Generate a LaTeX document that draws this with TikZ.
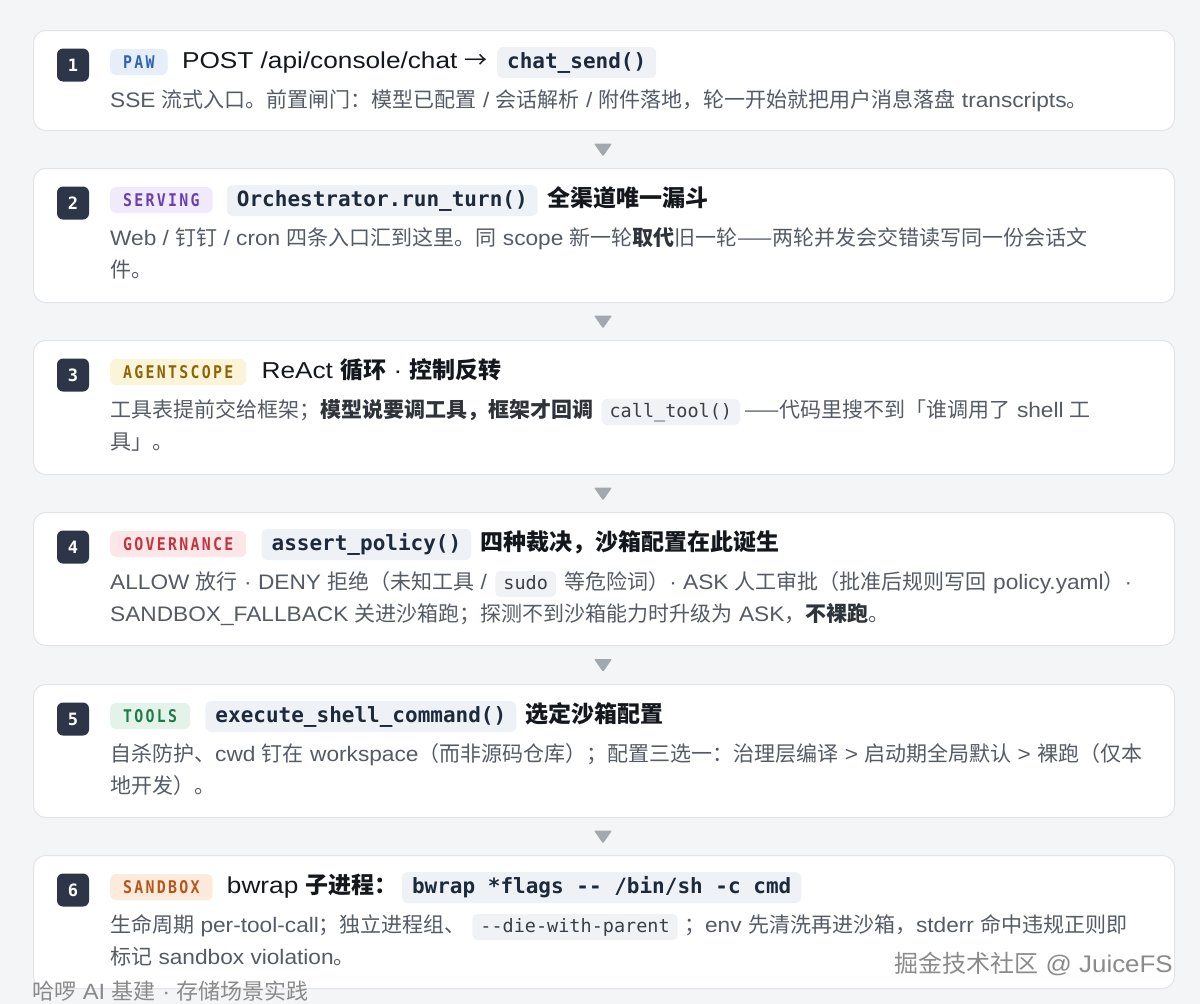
\documentclass[tikz,border=0pt]{standalone}
\usepackage{fontspec}
\setmainfont{Noto Sans CJK SC}
\newfontfamily\enf{Liberation Sans}[FakeStretch=1.08]
\newfontfamily\entf{Liberation Sans}[FakeStretch=1.14]
\newfontfamily\monof{DejaVu Sans Mono}[Ligatures=TeXOff]
\newfontfamily\tagf{DejaVu Sans Mono}[Ligatures=TeXOff,FakeStretch=0.85,LetterSpace=13]
\usetikzlibrary{calc}

\definecolor{bgc}{HTML}{F4F5F7}
\definecolor{cardline}{HTML}{E2E4E8}
\definecolor{navy}{HTML}{2C3648}
\definecolor{ttlc}{HTML}{14171C}
\definecolor{descc}{HTML}{555B65}
\definecolor{descb}{HTML}{2F343B}
\definecolor{codebg}{HTML}{EEF1F6}
\definecolor{codefg}{HTML}{1D2A3B}
\definecolor{icodebg}{HTML}{F0F2F5}
\definecolor{icodefg}{HTML}{3A3F47}
\definecolor{tric}{HTML}{A3A7AE}
\definecolor{wmc}{HTML}{8A8A8A}
\definecolor{pawbg}{HTML}{E6EEF9}\definecolor{pawfg}{HTML}{2F64B0}
\definecolor{srvbg}{HTML}{F1EAFA}\definecolor{srvfg}{HTML}{6C3FB0}
\definecolor{agsbg}{HTML}{FCF4D8}\definecolor{agsfg}{HTML}{8B6508}
\definecolor{govbg}{HTML}{FCE6E8}\definecolor{govfg}{HTML}{C2343F}
\definecolor{tlsbg}{HTML}{E4F3EA}\definecolor{tlsfg}{HTML}{1F7A48}
\definecolor{sbxbg}{HTML}{FCEBDD}\definecolor{sbxfg}{HTML}{B5561A}

\newcommand\en[1]{{\enf #1}}
\newcommand\ent[1]{{\entf #1}}
\newcommand\hb[1]{{\bfseries\color{descb}#1}}
\newcommand\tb[1]{{\bfseries #1}}

\tikzset{
  card/.style={draw=cardline, line width=1pt, fill=white, rounded corners=12pt,
    anchor=north west, minimum width=1141pt, inner sep=0pt},
  badge/.style={fill=navy, rounded corners=6pt, minimum width=32pt, minimum height=33pt,
    inner sep=0pt, text=white, font=\monof\bfseries\fontsize{17}{17}\selectfont},
  tagbox/.style 2 args={fill=#1, text=#2, rounded corners=6pt, inner xsep=13pt, inner ysep=6.5pt,
    text height=13pt, text depth=0pt, anchor=base west,
    font=\tagf\bfseries\fontsize{17.5}{17.5}\selectfont},
  codebox/.style={fill=codebg, text=codefg, rounded corners=6pt, inner xsep=10pt, inner ysep=6pt,
    text height=15pt, text depth=4pt, anchor=base west,
    font=\monof\bfseries\fontsize{21}{24}\selectfont},
  icode/.style={fill=icodebg, text=icodefg, rounded corners=5pt, inner xsep=8pt, inner ysep=4pt,
    text height=14pt, text depth=4pt, anchor=base west,
    font=\monof\fontsize{18.5}{22}\selectfont},
  ttl/.style={inner sep=0pt, anchor=base west, text=ttlc, font=\fontsize{23}{28}\selectfont},
  dsc/.style={inner sep=0pt, anchor=base west, text=descc, font=\fontsize{21}{26}\selectfont},
  tri/.style={fill=tric, rounded corners=1pt},
  wm/.style={inner sep=0pt, text=wmc}
}

\begin{document}
\begin{tikzpicture}[x=1pt,y=-1pt]
\useasboundingbox (0,0) rectangle (1200,1004);
\fill[bgc] (0,0) rectangle (1200,1004);

% cards
\node[card, minimum height=100pt] (c1) at (33,30) {};
\node[card, minimum height=134pt] (c2) at (33,168) {};
\node[card, minimum height=134pt] (c3) at (33,340) {};
\node[card, minimum height=133pt] (c4) at (33,512) {};
\node[card, minimum height=133pt] (c5) at (33,684) {};
\node[card, minimum height=133pt] (c6) at (33,855) {};

% down triangles between cards
\foreach \a/\b/\n in {c1/c2/a1, c2/c3/a2, c3/c4/a3, c4/c5/a4, c5/c6/a5}{
  \coordinate (\n) at ($(\a.south)!0.5!(\b.north)$);
  \fill[tri] ([shift={(-9,-6)}]\n -| 603,0) -- ([shift={(9,-6)}]\n -| 603,0) -- ([shift={(0,7)}]\n -| 603,0) -- cycle;
}

% ---- card 1
\node[badge] (b1) at (73,65) {1};
\node[tagbox={pawbg}{pawfg}] (g1) at (110,68.5) {PAW};
\node[ttl] (t1) at ([xshift=14pt]g1.base east |- 0,68) {\ent{POST /api/console/chat }→};
\node[codebox] (k1) at ([xshift=9pt]t1.base east) {chat\_send()};
\node[dsc] (d1) at (110,107) {\en{SSE }流式入口。前置闸门：模型已配置\en{ / }会话解析\en{ / }附件落地，轮一开始就把用户消息落盘\en{ transcripts}。};

% ---- card 2
\node[badge] (b2) at (73,203) {2};
\node[tagbox={srvbg}{srvfg}] (g2) at (110,206.5) {SERVING};
\node[codebox] (k2) at ([xshift=14pt]g2.base east |- 0,206) {Orchestrator.run\_turn()};
\node[ttl] (t2) at ([xshift=9pt]k2.base east) {\tb{全渠道唯一漏斗}};
\node[dsc] (d2a) at (110,245) {\en{Web / }钉钉\en{ / cron }四条入口汇到这里。同\en{ scope }新一轮\hb{取代}旧一轮——两轮并发会交错读写同一份会话文};
\node[dsc] (d2b) at (110,277) {件。};

% ---- card 3
\node[badge] (b3) at (73,375) {3};
\node[tagbox={agsbg}{agsfg}] (g3) at (110,378.5) {AGENTSCOPE};
\node[ttl] (t3) at ([xshift=15pt]g3.base east |- 0,378) {\ent{ReAct }\tb{循环}\ent{ · }\tb{控制反转}};
\node[dsc] (d3a) at (110,417) {工具表提前交给框架；\hb{模型说要调工具，框架才回调}};
\node[icode] (i3) at ([xshift=8pt]d3a.base east) {call\_tool()};
\node[dsc] (d3c) at ([xshift=4pt]i3.base east) {——代码里搜不到「谁调用了\en{ shell }工};
\node[dsc] (d3b) at (110,449) {具」。};

% ---- card 4
\node[badge] (b4) at (73,547) {4};
\node[tagbox={govbg}{govfg}] (g4) at (110,550.5) {GOVERNANCE};
\node[codebox] (k4) at ([xshift=15pt]g4.base east |- 0,550) {assert\_policy()};
\node[ttl] (t4) at ([xshift=9pt]k4.base east) {\tb{四种裁决，沙箱配置在此诞生}};
\node[dsc] (d4a) at (110,589) {\en{ALLOW }放行\en{ · DENY }拒绝（未知工具\en{ /}};
\node[icode] (i4) at ([xshift=8pt]d4a.base east) {sudo};
\node[dsc] (d4c) at ([xshift=8pt]i4.base east) {等危险词）\en{· ASK }人工审批（批准后规则写回\en{ policy.yaml}）\en{·}};
\node[dsc] (d4b) at (110,621) {\en{SANDBOX\_FALLBACK }关进沙箱跑；探测不到沙箱能力时升级为\en{ ASK}，\hb{不裸跑}。};

% ---- card 5
\node[badge] (b5) at (73,719) {5};
\node[tagbox={tlsbg}{tlsfg}] (g5) at (110,722.5) {TOOLS};
\node[codebox] (k5) at ([xshift=15pt]g5.base east |- 0,722) {execute\_shell\_command()};
\node[ttl] (t5) at ([xshift=9pt]k5.base east) {\tb{选定沙箱配置}};
\node[dsc] (d5a) at (110,761) {自杀防护、\en{cwd }钉在\en{ workspace}（而非源码仓库）；配置三选一：治理层编译\en{ > }启动期全局默认\en{ > }裸跑（仅本};
\node[dsc] (d5b) at (110,793) {地开发）。};

% ---- card 6
\node[badge] (b6) at (73,890) {6};
\node[tagbox={sbxbg}{sbxfg}] (g6) at (110,893.5) {SANDBOX};
\node[ttl] (t6) at ([xshift=14pt]g6.base east |- 0,893) {\ent{bwrap }\tb{子进程：}};
\node[codebox] (k6) at ([xshift=4pt]t6.base east) {bwrap *flags -- /bin/sh -c cmd};
\node[dsc] (d6a) at (110,932) {生命周期\en{ per-tool-call}；独立进程组、};
\node[icode] (i6) at ([xshift=6pt]d6a.base east) {--die-with-parent};
\node[dsc] (d6c) at ([xshift=6pt]i6.base east) {；\en{env }先清洗再进沙箱，\en{stderr }命中违规正则即};
\node[dsc] (d6b) at (110,964) {标记\en{ sandbox violation}。};

% watermarks
\node[wm, anchor=base east, font=\fontsize{24}{28}\selectfont] (w1) at (1173,972) {掘金技术社区\en{ @ JuiceFS}};
\node[wm, anchor=base west, font=\fontsize{22}{26}\selectfont] (w2) at (32,999) {哈啰\en{ AI }基建\en{ · }存储场景实践};
\end{tikzpicture}
\end{document}
